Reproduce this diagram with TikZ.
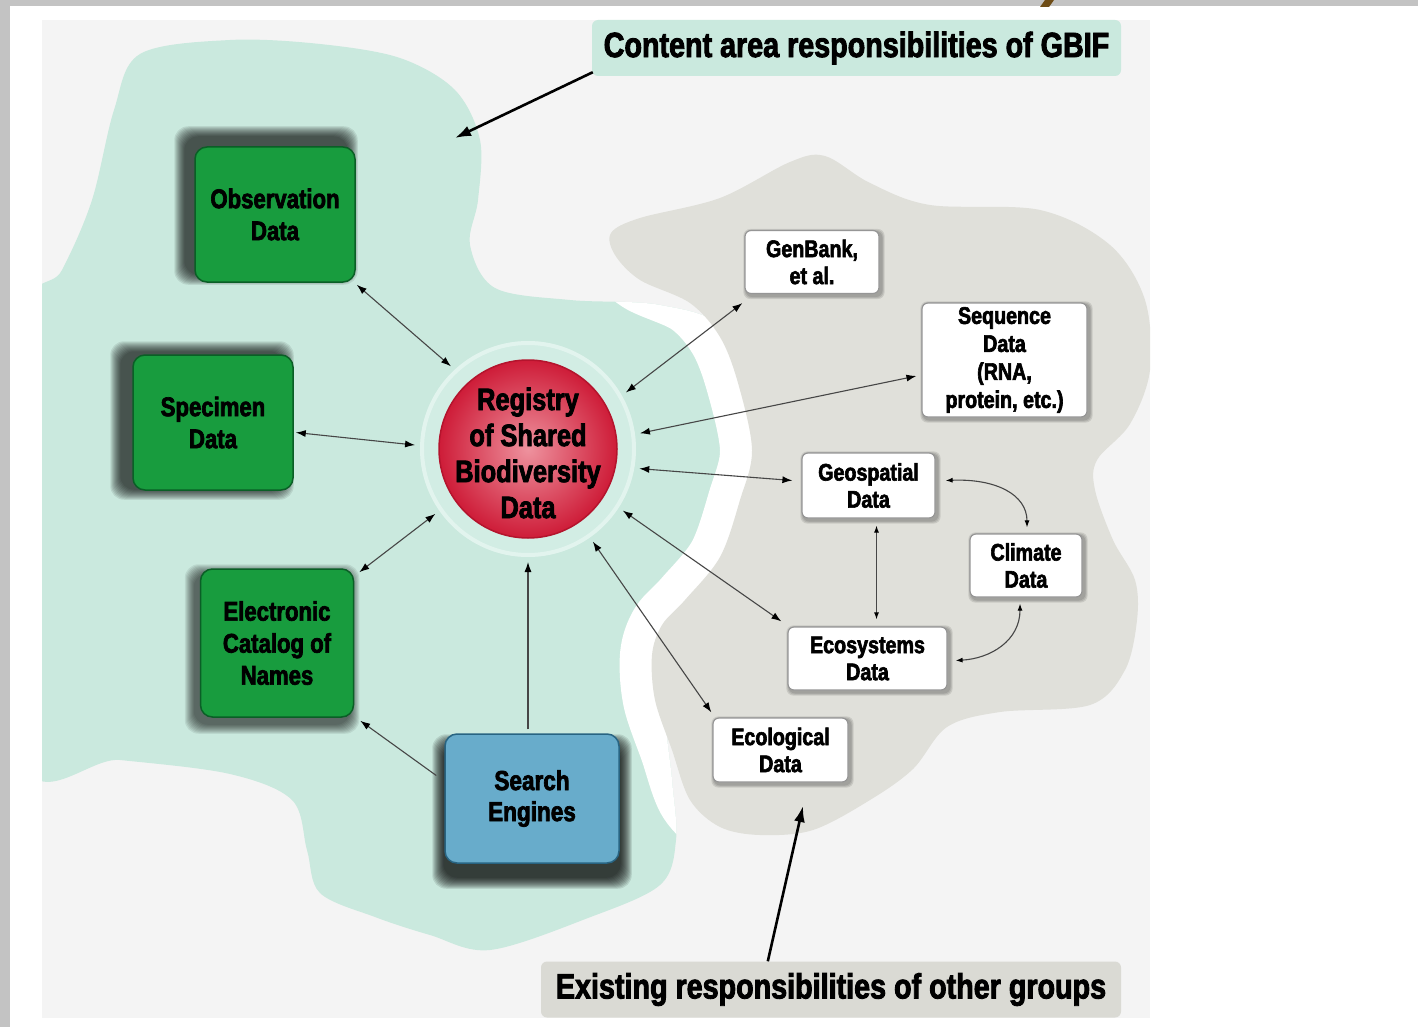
\documentclass[tikz,border=0pt]{standalone}
\usepackage{fontspec}
\newfontfamily\nf[FakeStretch=0.82, FakeBold=2.5]{Liberation Sans Bold}
\usetikzlibrary{arrows.meta,calc}

\definecolor{framegray}{RGB}{195,195,195}
\definecolor{panelbg}{RGB}{244,244,244}
\definecolor{tealblob}{RGB}{202,233,222}
\definecolor{grayblob}{RGB}{224,224,218}
\definecolor{labelgray}{RGB}{218,218,212}
\definecolor{boxgreen}{RGB}{24,156,62}
\definecolor{boxgreenedge}{RGB}{10,95,38}
\definecolor{boxblue}{RGB}{104,172,203}
\definecolor{boxblueedge}{RGB}{40,100,130}
\definecolor{redin}{RGB}{238,146,158}
\definecolor{redout}{RGB}{206,28,56}
\definecolor{redrim}{RGB}{180,20,45}
\definecolor{ringline}{RGB}{226,244,238}
\definecolor{ringfill}{RGB}{210,237,228}
\definecolor{brownmark}{RGB}{110,76,22}
\definecolor{connline}{RGB}{70,70,70}
\definecolor{wboxedge}{RGB}{150,150,150}

\pgfdeclarelayer{blobs}
\pgfdeclarelayer{shadowlayer}
\pgfsetlayers{blobs,shadowlayer,main}

\newcommand\boxshadow[6]{%
  \foreach \k in {1,...,#4}{
    \fill[black, opacity=#5, rounded corners=#6]
      ($(#1.north west)+(#2-\k,#3-\k)$) rectangle ($(#1.south east)+(#2+\k,#3+\k)$);
  }}

\tikzset{
  greenbox/.style={rectangle, rounded corners=12pt, fill=boxgreen, draw=boxgreenedge,
    line width=1.5pt, align=center, text=black,
    font=\nf\fontsize{27}{32}\selectfont},
  bluebox/.style={rectangle, rounded corners=12pt, fill=boxblue, draw=boxblueedge,
    line width=1.5pt, align=center, text=black,
    font=\nf\fontsize{27.5}{31}\selectfont},
  whitebox/.style={rectangle, rounded corners=6pt, fill=white, draw=wboxedge,
    line width=1.2pt, align=center, text=black,
    font=\nf\fontsize{24}{27}\selectfont},
  labelbox/.style={rectangle, rounded corners=6pt, text=black,
    font=\nf\fontsize{35}{40}\selectfont},
  regtext/.style={align=center, text=black, font=\nf\fontsize{31}{36}\selectfont},
  conn/.style={draw=connline, line width=1.1pt,
    {Latex[length=10pt,width=7pt,color=black]}-{Latex[length=10pt,width=7pt,color=black]}},
  oneway/.style={draw=connline, line width=1.1pt, -{Latex[length=10pt,width=7pt,color=black]}},
  smallconn/.style={draw=connline, line width=1.1pt,
    {Latex[length=7pt,width=5pt,color=black]}-{Latex[length=7pt,width=5pt,color=black]}},
  annot/.style={draw=black, line width=2.6pt, -{Latex[length=16pt,width=11pt]}}
}

\begin{document}
\begin{tikzpicture}[x=1pt,y=-1pt]
\useasboundingbox (0,0) rectangle (1418,1027);
\begin{pgfonlayer}{blobs}
% frame and panel
\fill[white] (0,0) rectangle (1418,1027);
\fill[framegray] (0,0) rectangle (1418,6);
\fill[framegray] (0,0) rectangle (10,1027);
\fill[panelbg] (42,20) rectangle (1150,1018);
\fill[brownmark] (1045,0) -- (1054,0) -- (1049,7) -- (1040,7) -- cycle;
% blobs
\begin{scope}
\clip (42,20) rectangle (1150,1018);
\def\tealpath{plot[smooth cycle, tension=0.55] coordinates {
 (140,54) (230,40) (320,44) (400,58) (455,90) (480,140) (478,200) (470,245)
 (495,288) (570,300) (660,305) (725,330) (765,420) (765,510) (730,575)
 (680,615) (665,700) (672,780) (676,840) (660,885) (588,918) (490,950)
 (430,935) (375,917) (320,893) (307,850) (292,800) (230,774) (120,760)
 (20,752) (20,340) (62,270) (92,200) (114,110)}}
\def\graypath{plot[smooth cycle, tension=0.55] coordinates {
 (611,233) (640,218) (720,198) (790,162) (825,156) (870,183) (930,205)
 (1040,210) (1110,245) (1145,300) (1150,370) (1130,424) (1097,460)
 (1095,490) (1113,540) (1135,580) (1137,620) (1125,670) (1090,705)
 (1000,712) (947,727) (913,769) (870,800) (813,830) (760,835) (720,827)
 (690,800) (672,750) (655,700) (652,655) (662,625) (685,600) (720,557)
 (740,500) (752,450) (738,383) (720,337) (690,303) (640,280) (615,255)}}
\fill[tealblob] \tealpath;
\begin{scope}
\clip \tealpath;
\draw[white, line width=64pt, line join=round] \graypath;
\end{scope}
\fill[grayblob] \graypath;
\end{scope}
% ring round the registry
\fill[ringfill] (528,449) circle (108);
\draw[ringline, line width=4pt] (528,449) circle (106);
\end{pgfonlayer}

\node[circle, minimum size=226pt, inner sep=0pt, outer sep=0pt] (ring) at (528,449) {};
\node[circle, minimum size=178pt, inner sep=0pt, shading=radial, inner color=redin,
      outer color=redout, draw=redrim, line width=1.5pt] (reg) at (528,449) {};
\node[regtext] (regt) at (528,453) {Registry\\of Shared\\Biodiversity\\Data};

% green and blue boxes
\node[greenbox, minimum width=160pt, minimum height=135pt] (obs) at (275,214.5) {Observation\\Data};
\node[greenbox, minimum width=160pt, minimum height=135pt] (spec) at (213,422.5) {Specimen\\Data};
\node[greenbox, minimum width=153pt, minimum height=148pt] (cat) at (277,643) {Electronic\\Catalog of\\Names};
\node[bluebox, minimum width=174pt, minimum height=129pt] (search) at (532,798.5) {Search\\Engines};

% white boxes
\node[whitebox, minimum width=134pt, minimum height=63pt] (genbank) at (812,262) {GenBank,\\et al.};
\node[whitebox, minimum width=165pt, minimum height=114pt, font=\nf\fontsize{24}{28}\selectfont]
      (seq) at (1004.5,360) {Sequence\\Data\\(RNA,\\protein, etc.)};
\node[whitebox, minimum width=133pt, minimum height=65pt] (geo) at (868.5,485.5) {Geospatial\\Data};
\node[whitebox, minimum width=112pt, minimum height=63pt] (clim) at (1026,565.5) {Climate\\Data};
\node[whitebox, minimum width=159pt, minimum height=63pt] (ecosys) at (867.5,658.5) {Ecosystems\\Data};
\node[whitebox, minimum width=135pt, minimum height=64pt] (ecol) at (780.5,750) {Ecological\\Data};

% shadows
\begin{pgfonlayer}{shadowlayer}
\boxshadow{obs}{-9}{-9}{11}{0.085}{14pt}
\boxshadow{spec}{-11}{-2}{11}{0.085}{14pt}
\boxshadow{cat}{-5}{6}{10}{0.075}{14pt}
\boxshadow{search}{0}{13}{12}{0.1}{14pt}
\foreach \b in {genbank,seq,geo,clim,ecosys,ecol}{\boxshadow{\b}{2}{2}{3}{0.1}{7pt}}
\end{pgfonlayer}

% labels
\node[labelbox, fill=tealblob, minimum width=529pt, minimum height=56pt] (toplabel) at (856.5,48)
      {Content area responsibilities of GBIF};
\node[labelbox, fill=labelgray, minimum width=580pt, minimum height=56pt] (botlabel) at (831,989.5)
      {Existing responsibilities of other groups};
\coordinate (tipA) at (455,138);
\coordinate (tipB) at (803,806);
\draw[annot] ($(toplabel.south west)+(1,-4)$) -- (tipA);
\draw[annot] ($(botlabel.north west)+(227,0)$) -- (tipB);

% connectors
\draw[conn] ($(obs.south east)+(1,2)$) -- (ring.133);
\draw[conn] ($(spec.east)+(2,10)$) -- (ring.178.5);
\draw[conn] (ring.215.9) -- ($(cat.north east)+(5,4)$);
\draw[oneway] ($(search.west)+(-8,-23)$) -- ($(cat.south east)+(6,3)$);
\draw[oneway] ($(search.north)+(-4,-4)$) -- (ring.270);
\draw[conn] (ring.30.8) -- ($(genbank.south west)+(-2,9)$);
\draw[conn] (ring.8.6) -- ($(seq.west)+(-5,16)$);
\draw[conn] (ring.-10.8) -- ($(geo.west)+(-9,-5)$);
\draw[conn] (ring.-33.8) -- ($(ecosys.north west)+(-6,-5)$);
\draw[conn] (ring.-55.7) -- ($(ecol.north west)+(-1,-5)$);
\draw[smallconn] ($(geo.south)+(8,7)$) -- ($(ecosys.north)+(9,-7)$);
\draw[smallconn] ($(geo.east)+(10,-5)$) .. controls +(50,-2) and +(0,-33) .. ($(clim.north)+(1,-6)$);
\draw[smallconn] ($(clim.south)+(-6,6)$) .. controls +(0,37) and +(35,-2) .. ($(ecosys.east)+(8,2)$);
\end{tikzpicture}
\end{document}
